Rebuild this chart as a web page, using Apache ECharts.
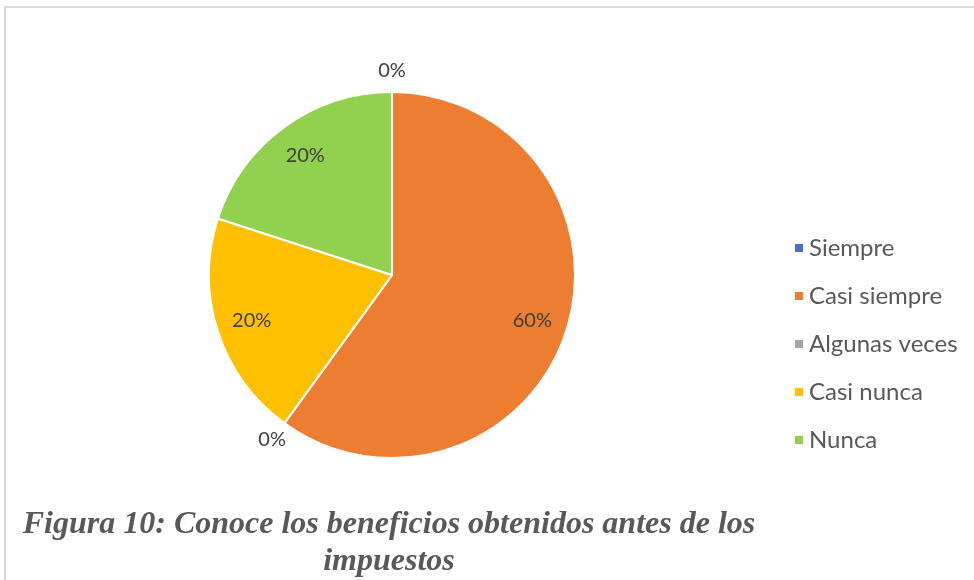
<!DOCTYPE html>
<html>
<head>
<meta charset="utf-8">
<script src="https://cdn.jsdelivr.net/npm/echarts@6/dist/echarts.min.js"></script>
<style>
html,body{margin:0;padding:0;background:#fff;}
#chart{width:974px;height:580px;}
</style>
</head>
<body>
<div id="chart"></div>
<script>
const categories = ['Siempre', 'Casi siempre', 'Algunas veces', 'Casi nunca', 'Nunca'];
const values = [0, 60, 0, 20, 20];
const colors = ['#4472C4', '#ED7D31', '#A5A5A5', '#FFC000', '#92D050'];
const titleText = 'Figura 10: Conoce los beneficios obtenidos antes de los\nimpuestos';

const chart = echarts.init(document.getElementById('chart'), null, {renderer: 'canvas'});
const R = 183;
const center = [392, 275];
const data = categories.map((c, i) => ({name: c, value: values[i], itemStyle: {color: colors[i]}}));
const labelFont = {fontFamily: 'Lato', fontSize: 20, color: '#404040'};

chart.setOption({
  animation: false,
  graphic: [{
    type: 'rect', shape: {x: 5, y: 7, width: 1000, height: 600},
    style: {fill: 'none', stroke: '#d9d9d9', lineWidth: 2}, silent: true, z: -10
  }],
  title: {
    text: titleText,
    left: 384, top: 501, textAlign: 'center',
    textStyle: {fontFamily: 'Liberation Serif', fontStyle: 'italic', fontWeight: 'bold',
      fontSize: 32, color: '#595959', lineHeight: 37}
  },
  legend: {
    orient: 'vertical', left: 788, top: 229,
    itemWidth: 10, itemHeight: 10, itemGap: 20,
    icon: 'rect',
    data: categories,
    textStyle: {fontFamily: 'Lato', fontSize: 24, color: '#595959', lineHeight: 28}
  },
  series: [
    {
      type: 'pie', center: center, radius: R, startAngle: 90, clockwise: true,
      data: data,
      itemStyle: {borderColor: '#fff', borderWidth: 2},
      label: {show: false}, labelLine: {show: false},
      emphasis: {disabled: true}
    },
    {
      type: 'pie', center: center, radius: [R * 0.58, R], startAngle: 90, clockwise: true,
      data: data.map(d => ({name: d.name, value: d.value})),
      itemStyle: {color: 'rgba(0,0,0,0)'}, silent: true, legendHoverLink: false,
      label: Object.assign({show: true, position: 'inside',
        formatter: p => p.value > 0 ? p.value + '%' : ''}, labelFont),
      labelLine: {show: false}, emphasis: {disabled: true}, z: 5
    },
    {
      type: 'pie', center: center, radius: [R, R + 36], startAngle: 90, clockwise: true,
      data: data.map(d => ({name: d.name, value: d.value})),
      itemStyle: {color: 'rgba(0,0,0,0)'}, silent: true, legendHoverLink: false,
      label: Object.assign({show: true, position: 'inside',
        formatter: p => p.value === 0 ? p.value + '%' : ''}, labelFont),
      labelLine: {show: false}, emphasis: {disabled: true}, z: 5
    }
  ]
});
</script>
</body>
</html>
